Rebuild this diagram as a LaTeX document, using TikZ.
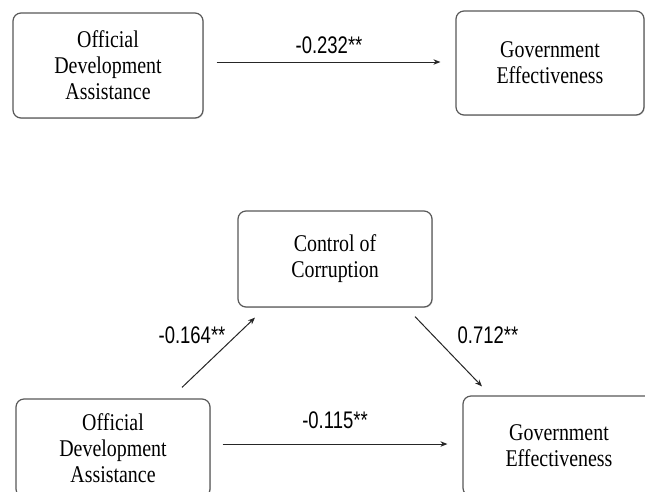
\documentclass[tikz,border=0pt]{standalone}
\usepackage{fontspec}
\setmainfont{Liberation Serif}[FakeStretch=0.83]
\newfontfamily\labfont{Liberation Sans}[FakeStretch=0.77]
\usetikzlibrary{arrows.meta,shadows}
\begin{document}
\begin{tikzpicture}[x=1pt,y=-1pt,
  box/.style={draw=black!65, line width=1.2pt, rounded corners=8pt, fill=white,
    align=center, font=\fontsize{24}{26}\selectfont, inner sep=0pt,
    drop shadow={opacity=0.3, shadow xshift=0.8pt, shadow yshift=-0.8pt}},
  arr/.style={-{Stealth[length=7pt,width=5.5pt]}, line width=1pt, black!85},
  lab/.style={font=\labfont\fontsize{24}{26}\selectfont}]
\clip (0,0) rectangle (645,491);
\fill[white] (0,0) rectangle (645,491);
% top model
\node[box, minimum width=190pt, minimum height=105pt] (oda1) at (108,65.5) {Official\\Development\\Assistance};
\node[box, minimum width=188pt, minimum height=104pt] (ge1) at (550,63) {Government\\Effectiveness};
\draw[arr] ([xshift=13pt,yshift=3.5pt]oda1.east) -- ([xshift=-15pt,yshift=1pt]ge1.west);
\node[lab] (l1) at (329,45) {-0.232**};
% mediation model
\node[box, minimum width=194pt, minimum height=96pt] (coc) at (335,259) {Control of\\Corruption};
\node[box, minimum width=194pt, minimum height=98pt] (oda2) at (113,448) {Official\\Development\\Assistance};
\node[box, minimum width=192pt, minimum height=100pt] (ge2) at (559,446) {Government\\Effectiveness};
\draw[arr] ([xshift=69pt,yshift=11pt]oda2.north) -- ([xshift=-80pt,yshift=-10pt]coc.south);
\draw[arr] ([xshift=80pt,yshift=-9pt]coc.south) -- ([xshift=-77pt,yshift=9pt]ge2.north);
\draw[arr] ([xshift=12pt,yshift=4pt]oda2.east) -- ([xshift=-15pt,yshift=2pt]ge2.west);
\node[lab] (l2) at (192,335) {-0.164**};
\node[lab] (l3) at (488,335) {0.712**};
\node[lab] (l4) at (335,420) {-0.115**};
\end{tikzpicture}
\end{document}
